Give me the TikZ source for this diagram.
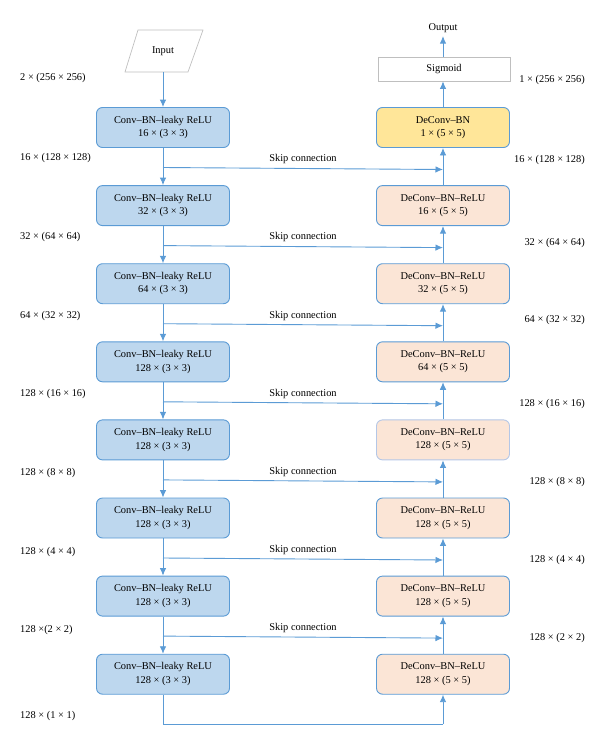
\documentclass[tikz,border=0pt]{standalone}
\usepackage{fontspec}
\setmainfont{Liberation Serif}
\usetikzlibrary{arrows.meta}
\definecolor{lnblue}{HTML}{5B9BD5}
\definecolor{encfill}{HTML}{BDD7EE}
\definecolor{decfill}{HTML}{FBE5D6}
\definecolor{yelfill}{HTML}{FFE699}
\definecolor{grayline}{HTML}{BFBFBF}
\definecolor{paleedge}{HTML}{B4C7E7}
\begin{document}
\begin{tikzpicture}[x=1pt,y=-1pt,
  every node/.style={font=\fontsize{10.4}{13.5}\selectfont},
  blk/.style={draw=lnblue, line width=0.9pt, rounded corners=6pt, minimum width=133pt, minimum height=40pt, align=center, inner sep=0pt},
  enc/.style={blk, fill=encfill},
  dec/.style={blk, fill=decfill},
  con/.style={draw=lnblue, line width=0.9pt, -{Latex[length=7.5pt,width=6.5pt]}},
  pl/.style={draw=lnblue, line width=0.9pt},
  dimL/.style={anchor=west, inner sep=0pt},
  dimR/.style={anchor=east, inner sep=0pt},
  skiplab/.style={midway, above, inner sep=2pt, yshift=2pt}]
\useasboundingbox (0,0) rectangle (600,742);
% input parallelogram
\node (input) at (163,51) {Input};
\draw[grayline, line width=0.7pt] (138,30) -- (203,30) -- (188,72) -- (125,72) -- cycle;
\coordinate (inb) at (163,72);
% output / sigmoid
\node (out) at (443,28) {Output};
\node[draw=grayline, line width=0.7pt, fill=white, minimum width=132pt, minimum height=24pt, inner sep=0pt] (sig) at (444,69) {Sigmoid};
% encoder
\node[enc] (L1) at (163,127.5) {Conv–BN–leaky ReLU\\16 × (3 × 3)};
\node[enc] (L2) at (163,205.6) {Conv–BN–leaky ReLU\\32 × (3 × 3)};
\node[enc] (L3) at (163,283.7) {Conv–BN–leaky ReLU\\64 × (3 × 3)};
\node[enc] (L4) at (163,361.8) {Conv–BN–leaky ReLU\\128 × (3 × 3)};
\node[enc] (L5) at (163,439.9) {Conv–BN–leaky ReLU\\128 × (3 × 3)};
\node[enc] (L6) at (163,518.0) {Conv–BN–leaky ReLU\\128 × (3 × 3)};
\node[enc] (L7) at (163,596.1) {Conv–BN–leaky ReLU\\128 × (3 × 3)};
\node[enc] (L8) at (163,674.2) {Conv–BN–leaky ReLU\\128 × (3 × 3)};
% decoder
\node[blk, fill=yelfill] (R1) at (443,127.5) {DeConv–BN\\1 × (5 × 5)};
\node[dec] (R2) at (443,205.6) {DeConv–BN–ReLU\\16 × (5 × 5)};
\node[dec] (R3) at (443,283.7) {DeConv–BN–ReLU\\32 × (5 × 5)};
\node[dec] (R4) at (443,361.8) {DeConv–BN–ReLU\\64 × (5 × 5)};
\node[dec, draw=paleedge] (R5) at (443,439.9) {DeConv–BN–ReLU\\128 × (5 × 5)};
\node[dec] (R6) at (443,518.0) {DeConv–BN–ReLU\\128 × (5 × 5)};
\node[dec] (R7) at (443,596.1) {DeConv–BN–ReLU\\128 × (5 × 5)};
\node[dec] (R8) at (443,674.2) {DeConv–BN–ReLU\\128 × (5 × 5)};
% main arrows
\draw[con] (inb) -- (L1.north);
\draw[con] (R1.north) -- (sig.south -| R1.north);
\draw[con] (sig.north -| R1.north) -- (out.south);
\foreach \a/\b in {1/2,2/3,3/4,4/5,5/6,6/7,7/8}{
  \draw[con] (L\a.south) -- (L\b.north);
  \draw[con] (R\b.north) -- (R\a.south);
}
% skip connections
\foreach \i/\y in {1/167.5,2/245.6,3/323.7,4/401.8,5/479.9,6/558.0,7/636.1}{
  \coordinate (sL\i) at (163,\y);
  \coordinate (sR\i) at (443,\y+2);
  \draw[con] (sL\i) -- node[skiplab] {Skip connection} (sR\i);
}
% bottom connection
\coordinate (bL) at (163,724);
\coordinate (bR) at (443,724);
\draw[pl] (L8.south) -- (bL) -- (bR);
\draw[con] (bR) -- (R8.south);
% dimension labels
\node[dimL] (dl0) at (20,78) {2 × (256 × 256)};
\node[dimL] (dl1) at (20,158) {16 × (128 × 128)};
\node[dimL] (dl2) at (20,237) {32 × (64 × 64)};
\node[dimL] (dl3) at (20,316) {64 × (32 × 32)};
\node[dimL] (dl4) at (20,394) {128 × (16 × 16)};
\node[dimL] (dl5) at (20,473) {128 × (8 × 8)};
\node[dimL] (dl6) at (20,552) {128 × (4 × 4)};
\node[dimL] (dl7) at (20,630) {128 ×(2 × 2)};
\node[dimL] (dl8) at (20,716) {128 × (1 × 1)};
\node[dimR] (dr0) at (585,80) {1 × (256 × 256)};
\node[dimR] (dr1) at (585,160) {16 × (128 × 128)};
\node[dimR] (dr2) at (585,243) {32 × (64 × 64)};
\node[dimR] (dr3) at (585,320) {64 × (32 × 32)};
\node[dimR] (dr4) at (585,404) {128 × (16 × 16)};
\node[dimR] (dr5) at (585,482) {128 × (8 × 8)};
\node[dimR] (dr6) at (585,560) {128 × (4 × 4)};
\node[dimR] (dr7) at (585,638) {128 × (2 × 2)};
\end{tikzpicture}
\end{document}
